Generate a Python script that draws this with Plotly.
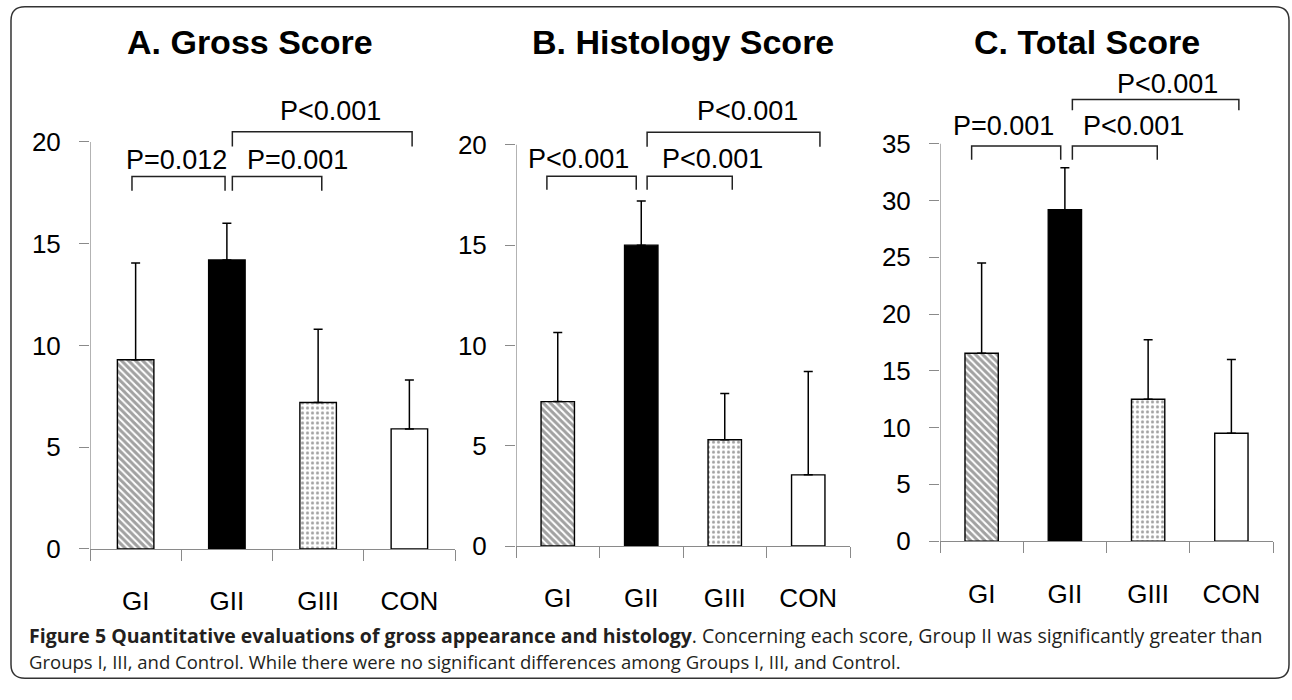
import plotly.graph_objects as go

# ---------------- data ----------------
categories = ["GI", "GII", "GIII", "CON"]

gross_mean = [9.3, 14.2, 7.2, 5.9]
gross_sd = [4.75, 1.8, 3.6, 2.4]

hist_mean = [7.2, 15.0, 5.3, 3.55]
hist_sd = [3.45, 2.2, 2.3, 5.15]

total_mean = [16.55, 29.2, 12.5, 9.5]
total_sd = [7.95, 3.7, 5.25, 6.5]

titles = ["A. Gross Score", "B. Histology Score", "C. Total Score"]
yticks_ab = [0, 5, 10, 15, 20]
yticks_c = [0, 5, 10, 15, 20, 25, 30, 35]

p_labels_a = ["P=0.012", "P=0.001", "P<0.001"]
p_labels_b = ["P<0.001", "P<0.001", "P<0.001"]
p_labels_c = ["P=0.001", "P<0.001", "P<0.001"]

caption_bold = "Figure 5 Quantitative evaluations of gross appearance and histology"
caption_l1_rest = "Concerning each score, Group II was significantly greater than"
caption_l2 = ("Groups I, III, and Control. While there were no significant "
              "differences among Groups I, III, and Control.")

# ---------------- layout geometry (pixels) ----------------
W, H = 1292, 700


def px_x(x):
    return x / W


def px_y(y):
    return 1 - y / H


# bracket geometry: (x_left, x_right, y_top, drop, label_x, label_y)
panels = [
    dict(mean=gross_mean, sd=gross_sd, title=titles[0], yticks=yticks_ab,
         labels=p_labels_a, x0=90, x1=455, y0=561, yscale=20.8, ymax=24,
         title_x=250,
         brackets=[(-0.04, 0.98, 18.3, 0.7, 0.45, 19.1),
                   (1.06, 2.04, 18.3, 0.7, 1.77, 19.1),
                   (1.06, 3.03, 20.5, 0.72, 2.14, 21.5)]),
    dict(mean=hist_mean, sd=hist_sd, title=titles[1], yticks=yticks_ab,
         labels=p_labels_b, x0=516, x1=850, y0=558, yscale=20.5, ymax=24,
         title_x=683,
         brackets=[(-0.13, 0.94, 18.44, 0.68, 0.25, 19.3),
                   (1.07, 2.09, 18.44, 0.68, 1.85, 19.3),
                   (1.07, 3.14, 20.63, 0.73, 2.27, 21.7)]),
    dict(mean=total_mean, sd=total_sd, title=titles[2], yticks=yticks_c,
         labels=p_labels_c, x0=940, x1=1273, y0=553, yscale=11.6, ymax=42,
         title_x=1087,
         brackets=[(-0.12, 0.95, 34.8, 1.2, 0.26, 36.6),
                   (1.09, 2.11, 34.8, 1.2, 1.83, 36.6),
                   (1.09, 3.09, 38.9, 0.95, 2.23, 40.3)]),
]

AX_FONT = "Liberation Sans, Arial, sans-serif"
GRAY = "#8a8a8a"

fig = go.Figure()
layout = dict(width=W, height=H, margin=dict(l=0, r=0, t=0, b=0),
              paper_bgcolor="white", plot_bgcolor="white", showlegend=False)
shapes = []
annotations = []

for k, p in enumerate(panels):
    sfx = "" if k == 0 else str(k + 1)
    xa, ya = "x" + sfx, "y" + sfx
    top_px = p["y0"] - p["ymax"] * p["yscale"]
    fig.add_trace(go.Bar(
        x=categories, y=p["mean"], xaxis=xa, yaxis=ya, width=0.4,
        marker=dict(
            color=["white", "black", "white", "white"],
            line=dict(color="black", width=1.4),
            pattern=dict(shape=["\\", "", ".", ""],
                         fgcolor=["black", "black", "#555555", "black"],
                         bgcolor=["white", "black", "white", "white"],
                         size=[5, 8, 5, 8],
                         solidity=[0.6, 0.2, 0.3, 0.2]),
        ),
        error_y=dict(type="data", array=p["sd"], arrayminus=[0] * 4,
                     symmetric=False, color="black", thickness=1.5, width=4.5),
        hoverinfo="skip",
    ))
    layout["xaxis" + sfx] = dict(
        domain=[px_x(p["x0"]), px_x(p["x1"])], anchor=ya, type="category",
        range=[-0.5, 3.5], showline=True, linecolor=GRAY, linewidth=1.3,
        ticks="outside", tickson="boundaries", ticklen=11, tickcolor=GRAY,
        tickwidth=1.3, showgrid=False, zeroline=False,
        tickfont=dict(family=AX_FONT, size=26, color="black"),
        ticklabelstandoff=29, fixedrange=True)
    layout["yaxis" + sfx] = dict(
        domain=[px_y(p["y0"]), px_y(top_px)], anchor=xa,
        range=[0, p["ymax"]], showline=False, ticks="outside",
        tickvals=p["yticks"], ticktext=[str(v) for v in p["yticks"]],
        ticklen=10, tickcolor=GRAY, tickwidth=1.3, showgrid=False,
        zeroline=False, tickfont=dict(family=AX_FONT, size=26, color="black"),
        ticklabelstandoff=13, fixedrange=True)
    # y axis line up to top tick
    shapes.append(dict(type="line", xref=xa, yref=ya, x0=-0.5, x1=-0.5,
                       y0=0, y1=p["yticks"][-1],
                       line=dict(color=GRAY, width=1.3)))
    # significance brackets
    for (xl, xr, yt, drop, lx, ly), lab in zip(p["brackets"], p["labels"]):
        shapes.append(dict(
            type="path", xref=xa, yref=ya,
            path=f"M {xl},{yt - drop} L {xl},{yt} L {xr},{yt} L {xr},{yt - drop}",
            line=dict(color="#222222", width=1.5)))
        annotations.append(dict(
            xref=xa, yref=ya, x=lx, y=ly, text=lab, showarrow=False,
            font=dict(family=AX_FONT, size=27, color="black"),
            xanchor="center", yanchor="middle"))
    # title
    annotations.append(dict(
        xref="paper", yref="paper", x=px_x(p["title_x"]), y=px_y(43),
        text=f"<b>{p['title']}</b>", showarrow=False,
        font=dict(family=AX_FONT, size=34, color="black"),
        xanchor="center", yanchor="middle"))

# caption
CAP_FONT = "Open Sans, Noto Sans, sans-serif"
annotations.append(dict(
    xref="paper", yref="paper", x=px_x(28), y=px_y(649),
    text=f"<b>{caption_bold}</b>. {caption_l1_rest}", showarrow=False,
    font=dict(family=CAP_FONT, size=19.5, color="#231f20"),
    xanchor="left", yanchor="middle", borderpad=0))
annotations.append(dict(
    xref="paper", yref="paper", x=px_x(28), y=px_y(676),
    text=caption_l2, showarrow=False,
    font=dict(family=CAP_FONT, size=18.5, color="#231f20"),
    xanchor="left", yanchor="middle", borderpad=0))

# rounded frame
fx0, fy0, fx1, fy1, r = 11, 7, 1289, 693, 14
pts = [
    ("M", fx0 + r, fy0), ("L", fx1 - r, fy0), ("Q", fx1, fy0, fx1, fy0 + r),
    ("L", fx1, fy1 - r), ("Q", fx1, fy1, fx1 - r, fy1), ("L", fx0 + r, fy1),
    ("Q", fx0, fy1, fx0, fy1 - r), ("L", fx0, fy0 + r),
    ("Q", fx0, fy0, fx0 + r, fy0),
]
path = ""
for seg in pts:
    cmd = seg[0]
    coords = seg[1:]
    conv = []
    for i in range(0, len(coords), 2):
        conv.append(f"{px_x(coords[i]):.5f},{px_y(coords[i + 1]):.5f}")
    path += cmd + " " + " ".join(conv) + " "
path += "Z"
shapes.append(dict(type="path", xref="paper", yref="paper", path=path,
                   line=dict(color="#333333", width=1.5)))

layout["shapes"] = shapes
layout["annotations"] = annotations
fig.update_layout(**layout)

fig.write_html("out.html", config={"displayModeBar": False},
               post_script="document.body.style.margin='0';"
                           "document.body.style.overflow='hidden';")
